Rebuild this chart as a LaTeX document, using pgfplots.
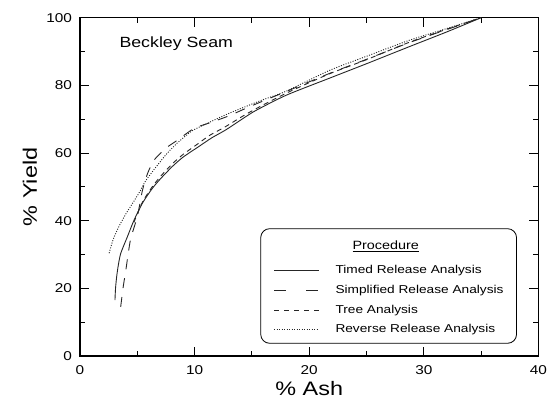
\documentclass[border=0pt]{standalone}
\usepackage{fontspec}
\setmainfont{Liberation Sans}[FakeStretch=1.2]
\usepackage{pgfplots}
\pgfplotsset{compat=1.18}
\begin{document}
\begin{tikzpicture}
\begin{axis}[
 scale only axis, width=458.5pt, height=338.3pt,
 xmin=0,xmax=40,ymin=0,ymax=100,
 xtick={0,10,...,40}, ytick={0,20,...,100},
 minor xtick={5,15,25,35}, minor ytick={10,30,50,70,90},
 tick align=inside, major tick length=9pt, minor tick length=5pt,
 every tick/.style={black, line width=1pt},
 axis line style={line width=1.3pt},
 /pgf/number format/assume math mode=true,
 tick label style={font=\fontsize{12.8}{14}\selectfont},
 yticklabel style={xshift=-4.5pt},
 xticklabel style={yshift=-5.8pt},
 xlabel={\% Ash}, ylabel={\% Yield},
 label style={font=\fontsize{19.5}{21}\selectfont},
 xlabel style={at={(rel axis cs:0.5,-0.1182)}, anchor=base},
 ylabel style={at={(rel axis cs:-0.0938,0.5)}, anchor=base},
 legend style={at={(rel axis cs:0.953,0.3775)}, anchor=north east, draw=black, line width=0.8pt,
   rounded corners=9pt, inner xsep=13pt, inner ysep=8pt, column sep=16pt, row sep=8.7pt,
   font=\fontsize{11.4}{13}\selectfont,
   nodes={inner sep=0pt, text height=8.5pt, text depth=2.5pt}},
 legend cell align=left,
 legend image code/.code={\draw[#1, line width=0.8pt] (0pt,0pt) -- (45pt,0pt);},
]
\coordinate (BL) at (rel axis cs:0,0);
\coordinate (TR) at (rel axis cs:1,1);

\addplot[black!85, line width=0.9pt, smooth, tension=0.4, forget plot] coordinates {
(3.05,16.5)(3.1,20)(3.2,23.5)(3.35,27)(3.56,30.4)(4.14,35.3)(4.72,40.2)(5.45,45.2)(6.3,49.5)(7.0,52.3)(8.05,56)(9.0,58.8)(10.4,62)(11.5,64.5)(12.7,66.8)(14,69.7)(15.3,72.5)(18,77.1)(21.75,82.1)(25,86.4)(28.7,91.4)(32,95.8)(35,100)};

\addplot[black!85, line width=0.9pt, dash pattern=on 10pt off 9pt, smooth, tension=0.4, forget plot] coordinates {
(3.55,14.5)(3.75,20)(4.0,25.4)(4.4,34.3)(5.0,41.2)(5.45,49)(5.9,54)(6.46,57.9)(7.48,61.4)(8.5,63.8)(9.96,67.3)(11.3,68.9)(13,71)(15,74)(18,78.2)(21.75,83.5)(25,87.7)(28.7,92.6)(32,96.5)(35,100)};

\addplot[black!85, line width=0.9pt, dash pattern=on 5pt off 4pt, smooth, tension=0.4, forget plot] coordinates {
(4.7,39.5)(5.45,45.5)(6.3,50)(7.0,53)(8.05,56.8)(9.0,59.6)(10.4,63)(11.3,65.2)(12.7,67.8)(14,70.5)(15.3,73)(18,77.7)(21.75,83.4)(25,87.6)(28.7,92.7)(32,96.6)(35,100)};

\addplot[black!85, line width=0.9pt, dash pattern=on 1pt off 1.5pt, smooth, tension=0.4, forget plot] coordinates {
(2.54,30.4)(2.9,34.5)(3.4,38.3)(4.0,42)(4.6,45.2)(5.2,48.5)(5.73,51.8)(6.5,55.3)(7.5,59.5)(8.5,63)(9.8,66.6)(11,68.6)(12.7,71.3)(14.5,73.8)(16,75.8)(18,78.3)(21.75,84.4)(25,88.6)(28.7,93.3)(32,96.8)(35,100)};

\addlegendimage{empty legend}
\addlegendentry[text height=12.5pt, text depth=7.3pt]{\hspace{17pt}{\fontsize{12}{14}\selectfont\underline{Procedure}}}
\addlegendimage{black!85}
\addlegendentry{Timed Release Analysis}
\addlegendimage{black!85, dash pattern=on 12pt off 20pt}
\addlegendentry{Simplified Release Analysis}
\addlegendimage{black!85, dash pattern=on 5pt off 5pt}
\addlegendentry{Tree Analysis}
\addlegendimage{black!85, dash pattern=on 1pt off 1.5pt}
\addlegendentry{Reverse Release Analysis}

\node[anchor=base west, font=\fontsize{14.8}{16}\selectfont] at (axis cs:3.14,91.3) {Beckley Seam};
\end{axis}
\pgfresetboundingbox
\path ([shift={(-80pt,-43pt)}]BL) rectangle ([shift={(18.5pt,17.7pt)}]TR);
\end{tikzpicture}
\end{document}
